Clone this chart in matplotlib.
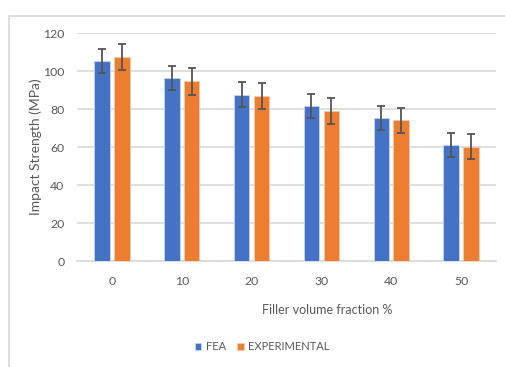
import matplotlib.pyplot as plt
import numpy as np
from matplotlib.patches import Rectangle

# data
categories = ['0', '10', '20', '30', '40', '50']
fea = [105.3, 96.2, 87.4, 81.6, 75.3, 60.9]
experimental = [107.4, 94.6, 86.8, 78.9, 74.0, 60.2]
fea_err = [6.2, 6.3, 6.6, 6.3, 6.3, 6.3]
exp_err = [6.9, 7.0, 6.7, 6.8, 6.6, 6.6]

plt.rcParams['font.family'] = ['Lato', 'DejaVu Sans']
text_col = '#595959'

fig = plt.figure(figsize=(5.06, 3.67), dpi=100)
fig.patch.set_facecolor('white')

# outer chart frame (right and bottom edges fall outside the image)
fig.patches.append(Rectangle((8.5 / 506, -0.1), 1.2, 1 - 15.5 / 367 + 0.1,
                             transform=fig.transFigure, fill=False,
                             edgecolor='#d9d9d9', linewidth=1.2))

ax = fig.add_axes([77 / 506, 1 - 261 / 367, 419 / 506, 228 / 367])

x = np.arange(len(categories))
w = 0.222
off = 0.143
err_kw = dict(ecolor='#555555', elinewidth=1.3, capsize=3, capthick=1.3)
ax.bar(x - off, fea, w, yerr=fea_err, color='#4472C4', edgecolor='#c9d6ee',
       linewidth=0.6, label='FEA', error_kw=err_kw, zorder=3)
ax.bar(x + off, experimental, w, yerr=exp_err, color='#ED7D31', edgecolor='#f7c9a8',
       linewidth=0.6, label='EXPERIMENTAL', error_kw=err_kw, zorder=3)

ax.set_xlim(-0.5, len(categories) - 0.5)
ax.set_ylim(0, 120)
ax.set_yticks(range(0, 121, 20))
ax.set_xticks(x)
ax.set_xticklabels(categories)
ax.grid(axis='y', color='#d9d9d9', linewidth=1.2, zorder=0)
for s in ['top', 'right', 'left']:
    ax.spines[s].set_visible(False)
ax.spines['bottom'].set_color('#d9d9d9')
ax.spines['bottom'].set_linewidth(1.2)
ax.tick_params(length=0, labelsize=8.8, colors=text_col)
ax.tick_params(axis='x', pad=11)
ax.tick_params(axis='y', pad=9)

ax.set_ylabel('Impact Strength (MPa)', fontsize=10, color=text_col)
ax.yaxis.set_label_coords(-0.083, 0.5)
ax.set_xlabel('Filler volume fraction %', fontsize=9, color=text_col)
ax.xaxis.set_label_coords(0.597, -0.19)

fig.legend(loc='center', bbox_to_anchor=(262 / 506, 1 - 347 / 367), ncol=2,
           frameon=False, fontsize=8, labelcolor=text_col, handlelength=0.6,
           handleheight=0.6, handletextpad=0.4, columnspacing=1.0)

fig.savefig('out.png', dpi=100)
